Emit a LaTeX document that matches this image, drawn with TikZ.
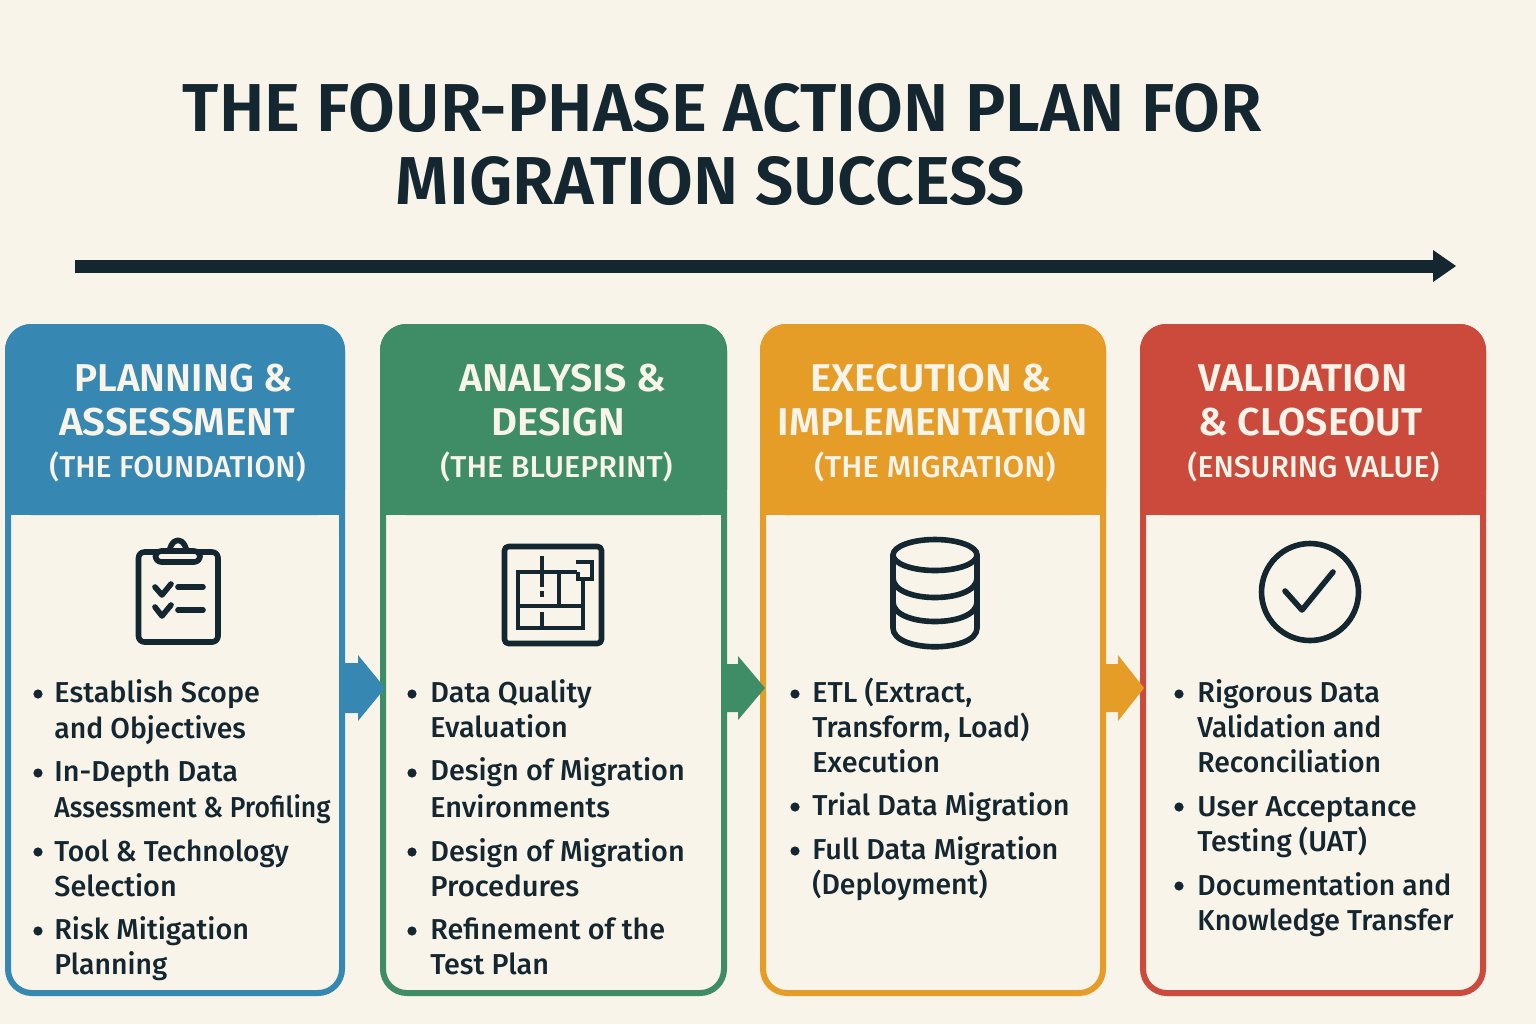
\documentclass[tikz,border=0pt]{standalone}
\usepackage{graphicx}
\usepackage{fontspec}
\setmainfont{Fira Sans}
\newfontfamily\titlef{Fira Sans SemiBold}
\newfontfamily\medf{Fira Sans Medium}
\definecolor{bgc}{HTML}{F8F4E9}
\definecolor{ink}{HTML}{14262F}
\definecolor{cblue}{HTML}{3687B2}
\definecolor{cgreen}{HTML}{3F8D66}
\definecolor{corange}{HTML}{E59D27}
\definecolor{cred}{HTML}{CB4A3C}
\newcommand{\xs}[2]{\scalebox{#1}[1]{#2}}
\tikzset{
  titletext/.style={anchor=base,inner sep=0,text=ink,font=\titlef\fontsize{33.9}{36}\selectfont},
  headtext/.style={anchor=base,inner sep=0,text=bgc,font=\titlef\fontsize{19.4}{20}\selectfont},
  subtext/.style={anchor=base,inner sep=0,text=bgc,font=\medf\fontsize{15.1}{18}\selectfont},
  bodytext/.style={anchor=base west,inner sep=0,xshift=-0.5pt,text=ink,font=\medf\fontsize{14.4}{17}\selectfont},
  bulletdot/.style={circle,fill=ink,inner sep=0,minimum size=4.6pt},
  panelbox/.style={rectangle,rounded corners=12pt,line width=3pt,fill=bgc,inner sep=0},
  icon/.style={draw=ink,line width=2.8pt,line cap=round,line join=round},
  iconthin/.style={draw=ink,line width=2pt},
}
\begin{document}
\begin{tikzpicture}[x=0.5pt,y=-0.5pt]
\useasboundingbox (0,0) rectangle (1536,1024);
\fill[bgc] (0,0) rectangle (1536,1024);
% title
\node[titletext] (t1) at (722.5,131) {THE FOUR-PHASE ACTION PLAN FOR};
\node[titletext] (t2) at (710.5,204) {MIGRATION SUCCESS};
% timeline arrow
\coordinate (ls) at (75,266);
\coordinate (le) at (1434,266);
\draw[ink,line width=6.5pt] (ls) -- (le);
\fill[ink,shift={(le)}] (-1,-16) -- (22,0) -- (-1,16) -- cycle;
% panels
\node[panelbox,draw=cblue,minimum width=167pt,minimum height=333pt] (p1) at (175,660) {};
\node[panelbox,draw=cgreen,minimum width=170.5pt,minimum height=333pt] (p2) at (553.5,660) {};
\node[panelbox,draw=corange,minimum width=170pt,minimum height=333pt] (p3) at (933,660) {};
\node[panelbox,draw=cred,minimum width=170pt,minimum height=333pt] (p4) at (1313,660) {};
% headers
\fill[cblue,rounded corners=13pt] (5,515) -- (5,324) -- (345,324) -- (345,515) -- cycle;
\fill[cgreen,rounded corners=13pt] (380,515) -- (380,324) -- (727,324) -- (727,515) -- cycle;
\fill[corange,rounded corners=13pt] (760,515) -- (760,324) -- (1106,324) -- (1106,515) -- cycle;
\fill[cred,rounded corners=13pt] (1140,515) -- (1140,324) -- (1486,324) -- (1486,515) -- cycle;
\fill[cblue] (5,500) rectangle (345,515);
\fill[cgreen] (380,500) rectangle (727,515);
\fill[corange] (760,500) rectangle (1106,515);
\fill[cred] (1140,500) rectangle (1486,515);
% header text
\node[headtext] (h1a) at (183.5,391) {PLANNING \&};
\node[headtext] (h1b) at (177,435) {\xs{1.04}{ASSESSMENT}};
\node[subtext] (h1c) at (177.5,477) {(THE FOUNDATION)};
\node[headtext] (h2a) at (562.5,391) {\xs{1.015}{ANALYSIS \&}};
\node[headtext] (h2b) at (558,435) {\xs{1.03}{DESIGN}};
\node[subtext] (h2c) at (556.5,477) {\xs{1.01}{(THE BLUEPRINT)}};
\node[headtext] (h3a) at (931.5,391) {\xs{1.035}{EXECUTION \&}};
\node[headtext] (h3b) at (933,435) {\xs{1.013}{IMPLEMENTATION}};
\node[subtext] (h3c) at (935,477) {\xs{1.04}{(THE MIGRATION)}};
\node[headtext] (h4a) at (1303,391) {\xs{1.015}{VALIDATION}};
\node[headtext] (h4b) at (1310.5,435) {\xs{1.015}{\& CLOSEOUT}};
\node[subtext] (h4c) at (1313.5,477) {(ENSURING VALUE)};
% clipboard icon
\draw[icon,rounded corners=3pt] (138.5,552) rectangle (218,642);
\draw[icon,fill=bgc] (178,559) -- (168.5,559) .. controls (168.5,534) and (187.5,534) .. (187.5,559) -- cycle;
\draw[icon,fill=bgc,rounded corners=3pt] (155.5,551) rectangle (200,562);
\draw[icon] (155,587) -- (162,595) -- (171,584);
\draw[icon] (178,587) -- (203,587);
\draw[icon] (155,607) -- (162,616) -- (171,605);
\draw[icon] (178,610) -- (203,610);
% blueprint icon
\draw[icon,rounded corners=2pt,line cap=butt] (504.5,546.5) rectangle (601.5,643.5);
\draw[iconthin] (577,572) -- (518,572) -- (518,628) -- (583,628) -- (583,578);
\draw[iconthin] (541.5,556) -- (541.5,587);
\draw[iconthin] (541.5,591) -- (541.5,597);
\draw[iconthin] (541.5,612) -- (541.5,628);
\draw[iconthin] (559,572) -- (559,606);
\draw[iconthin] (518,606) -- (583,606);
\draw[iconthin] (576,562) -- (592,562) -- (592,579) -- (578,579) -- (578,572);
% database icon
\draw[icon] (935,555) ellipse [x radius=42,y radius=15.5];
\draw[icon] (893,555) -- (893,628) .. controls (893,653) and (977,653) .. (977,628) -- (977,555);
\draw[icon] (893,578) .. controls (893,604) and (977,604) .. (977,578);
\draw[icon] (893,602) .. controls (893,628) and (977,628) .. (977,602);
% check icon
\draw[icon] (1310,592) circle [radius=48.5];
\draw[icon] (1285,591) -- (1302,610) -- (1333,572);
% panel 1 text
\node[bulletdot] (b11) at (38,694) {};
\node[bulletdot] (b12) at (38,773) {};
\node[bulletdot] (b13) at (38,852) {};
\node[bulletdot] (b14) at (38,931) {};
\node[bodytext] (l11) at (55,702) {Establish Scope};
\node[bodytext] (l12) at (55,738) {\xs{0.985}{and Objectives}};
\node[bodytext] (l13) at (55,781) {In-Depth Data};
\node[bodytext] (l14) at (55,817) {\xs{0.92}{Assessment \& Profiling}};
\node[bodytext] (l15) at (55,861) {\xs{0.975}{Tool \& Technology}};
\node[bodytext] (l16) at (55,896) {Selection};
\node[bodytext] (l17) at (55,939) {Risk Mitigation};
\node[bodytext] (l18) at (55,974) {\xs{0.985}{Planning}};
% panel 2 text
\node[bulletdot] (b21) at (412,694) {};
\node[bulletdot] (b22) at (412,773) {};
\node[bulletdot] (b23) at (412,852) {};
\node[bulletdot] (b24) at (412,931) {};
\node[bodytext] (l21) at (431,702) {Data Quality};
\node[bodytext] (l22) at (431,737) {Evaluation};
\node[bodytext] (l23) at (431,780) {Design of Migration};
\node[bodytext] (l24) at (431,817) {Environments};
\node[bodytext] (l25) at (431,861) {Design of Migration};
\node[bodytext] (l26) at (431,896) {\xs{1.015}{Procedures}};
\node[bodytext] (l27) at (431,939) {Refinement of the};
\node[bodytext] (l28) at (431,974) {Test Plan};
% panel 3 text
\node[bulletdot] (b31) at (795,694) {};
\node[bulletdot] (b32) at (795,807) {};
\node[bulletdot] (b33) at (795,851) {};
\node[bodytext] (l31) at (813,702) {ETL (Extract,};
\node[bodytext] (l32) at (813,737) {\xs{0.985}{Transform, Load)}};
\node[bodytext] (l33) at (813,772) {Execution};
\node[bodytext] (l34) at (813,815) {Trial Data Migration};
\node[bodytext] (l35) at (813,859) {Full Data Migration};
\node[bodytext] (l36) at (813,894) {\xs{0.985}{(Deployment)}};
% panel 4 text
\node[bulletdot] (b41) at (1179,694) {};
\node[bulletdot] (b42) at (1179,807) {};
\node[bulletdot] (b43) at (1179,886) {};
\node[bodytext] (l41) at (1198,702) {Rigorous Data};
\node[bodytext] (l42) at (1198,737) {\xs{0.97}{Validation and}};
\node[bodytext] (l43) at (1198,772) {\xs{0.985}{Reconciliation}};
\node[bodytext] (l44) at (1198,816) {\xs{1.02}{User Acceptance}};
\node[bodytext] (l45) at (1198,851) {Testing (UAT)};
\node[bodytext] (l46) at (1198,895) {\xs{0.983}{Documentation and}};
\node[bodytext] (l47) at (1198,930) {\xs{0.987}{Knowledge Transfer}};
% phase arrows
\coordinate (a1) at (342,688);
\coordinate (a2) at (724,688);
\coordinate (a3) at (1103,688);
\fill[cblue,shift={(a1)}] (0,-25) -- (16,-25) -- (16,-33) -- (43,0) -- (16,33) -- (16,25) -- (0,25) -- cycle;
\fill[cgreen,shift={(a2)}] (0,-24) -- (14,-24) -- (14,-32) -- (41,0) -- (14,32) -- (14,24) -- (0,24) -- cycle;
\fill[corange,shift={(a3)}] (0,-24) -- (15,-24) -- (15,-33) -- (41,0) -- (15,33) -- (15,24) -- (0,24) -- cycle;
\end{tikzpicture}
\end{document}
